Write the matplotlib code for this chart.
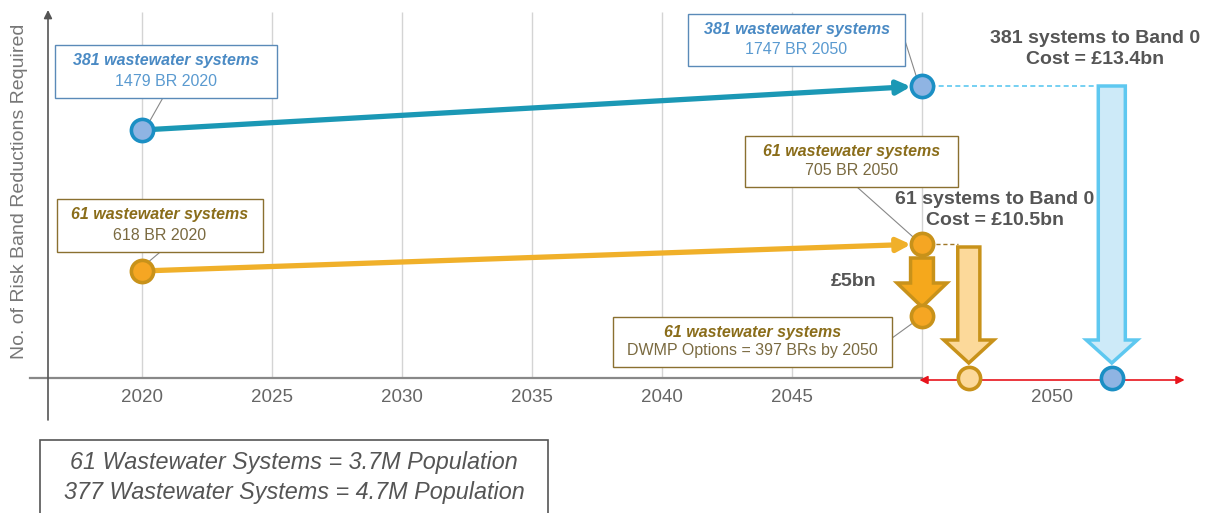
import numpy as np
import matplotlib
matplotlib.use("Agg")
import matplotlib.pyplot as plt
from matplotlib.patches import Rectangle

plt.rcParams['font.family'] = ['Liberation Sans', 'DejaVu Sans']

# schematic levels (not to scale with the BR counts)
years = [2020, 2050]
blue_br = [1479, 1747]
blue_level = [248, 292]
orange_br = [618, 705]
orange_level = [107, 134]
dwmp_br = 397
dwmp_level = 62
band0_x = [2051.8, 2057.3]          # orange, blue "to Band 0" end points
grid_years = [2020, 2025, 2030, 2035, 2040, 2045, 2050]
tick_pos = [2020, 2025, 2030, 2035, 2040, 2045, 2055]
tick_labels = ['2020', '2025', '2030', '2035', '2040', '2045', '2050']

BLUE_LINE = '#1b98b5'
BLUE_FACE = '#8fb4e3'
BLUE_EDGE = '#1b8fc4'
BLUE_TXT = '#4a8ac4'
ORG_LINE = '#f0b02a'
ORG_FACE = '#f5a623'
ORG_EDGE = '#c8921a'
ORG_TXT = '#8a6d1a'
GREY = '#555555'

fig = plt.figure(figsize=(12.1, 5.13), dpi=100)
ax = fig.add_axes([48 / 1210, 1 - 378 / 513, 1147 / 1210, 366 / 513])
ax.set_xlim(2016.385, 2060.5)
ax.set_ylim(0, 366)
for s in ax.spines.values():
    s.set_visible(False)

# grid + ticks
ax.vlines(grid_years, 0, 366, color='#d4d4d4', lw=1, zorder=0)
ax.set_xticks(tick_pos)
ax.set_xticklabels(tick_labels, fontsize=13.5, color='#666666')
ax.tick_params(axis='x', length=0, pad=8)
ax.set_yticks([])

ax.set_ylabel('No. of Risk Band Reductions Required', fontsize=14, color='#777777')
ax.yaxis.set_label_coords(-0.0175, 0.51)

# axis lines
ax.annotate('', xy=(2016.385, 368), xytext=(2016.385, -42),
            arrowprops=dict(arrowstyle='-|>', color='#555555', lw=1.2, mutation_scale=12,
                            shrinkA=0, shrinkB=0), annotation_clip=False)
ax.plot([2015.7, 2050], [0, 0], color='#888888', lw=1.6, clip_on=False, zorder=2)
ax.annotate('', xy=(2060.1, -2), xytext=(2049.9, -2),
            arrowprops=dict(arrowstyle='<|-|>', color='#e8141c', lw=1.2, mutation_scale=12,
                            shrinkA=0, shrinkB=0), annotation_clip=False, zorder=3)

# main trend arrows
ax.annotate('', xy=(years[1], blue_level[1]), xytext=(years[0], blue_level[0]),
            arrowprops=dict(arrowstyle='-|>', color=BLUE_LINE, lw=3.8, mutation_scale=20,
                            shrinkA=0, shrinkB=8), zorder=4)
ax.annotate('', xy=(years[1], orange_level[1]), xytext=(years[0], orange_level[0]),
            arrowprops=dict(arrowstyle='-|>', color=ORG_LINE, lw=3.8, mutation_scale=20,
                            shrinkA=0, shrinkB=8), zorder=4)

# dashed connectors
ax.plot([years[1], band0_x[1] - 0.3], [blue_level[1]] * 2, color='#5ec8f0', lw=1.2,
        ls=(0, (3, 2)), zorder=3)
ax.plot([years[1], band0_x[0] - 0.4], [orange_level[1]] * 2, color='#a07828', lw=1,
        ls=(0, (3, 2)), zorder=3)

# block arrows
ax.arrow(band0_x[1], blue_level[1], 0, 15 - blue_level[1], width=1.04, head_width=1.96,
         head_length=23, length_includes_head=True, fc='#cdeaf8', ec='#5ec8f0', lw=2.5, zorder=5)
ax.arrow(band0_x[0], orange_level[1] - 3, 0, 15 - orange_level[1] + 3, width=0.85,
         head_width=1.92, head_length=23, length_includes_head=True, fc='#fcd99a',
         ec=ORG_EDGE, lw=2.5, zorder=5)
ax.arrow(years[1], orange_level[1] - 14, 0, dwmp_level + 9 - orange_level[1] + 14, width=0.88,
         head_width=1.92, head_length=24, length_includes_head=True, fc='#f5a81c',
         ec=ORG_EDGE, lw=2.5, zorder=5)

# points
ax.plot(years, blue_level, 'o', ms=16, mfc=BLUE_FACE, mec=BLUE_EDGE, mew=2.6, zorder=6)
ax.plot(years, orange_level, 'o', ms=16, mfc=ORG_FACE, mec=ORG_EDGE, mew=2.6, zorder=6)
ax.plot(years[1], dwmp_level, 'o', ms=16, mfc=ORG_FACE, mec=ORG_EDGE, mew=2.6, zorder=6)
ax.plot(band0_x[0], 0, 'o', ms=16, mfc='#fcd99a', mec=ORG_EDGE, mew=2.6, zorder=6, clip_on=False)
ax.plot(band0_x[1], 0, 'o', ms=16, mfc=BLUE_FACE, mec=BLUE_EDGE, mew=2.6, zorder=6, clip_on=False)


def callout(x0, x1, y0, y1, title, sub, ec, tc, sc, lead_from, lead_to):
    ax.add_patch(Rectangle((x0, y0), x1 - x0, y1 - y0, fc='white', ec=ec, lw=1, zorder=7,
                           clip_on=False))
    xc = (x0 + x1) / 2
    h = y1 - y0
    ax.text(xc, y0 + h * 0.70, title, ha='center', va='center', fontsize=11.5,
            fontweight='bold', fontstyle='italic', color=tc, zorder=8)
    ax.text(xc, y0 + h * 0.32, sub, ha='center', va='center', fontsize=11.5, color=sc, zorder=8)
    ax.plot([lead_from[0], lead_to[0]], [lead_from[1], lead_to[1]], color='#888888', lw=0.8,
            zorder=5)


callout(2016.65, 2025.19, 280, 333, '381 wastewater systems', f'{blue_br[0]} BR {years[0]}',
        '#5a8ab8', BLUE_TXT, '#5a9ad0', (2020.8, 280), (2020.3, 257))
callout(2041.0, 2049.35, 312, 364, '381 wastewater systems', f'{blue_br[1]} BR {years[1]}',
        '#5a8ab8', BLUE_TXT, '#5a9ad0', (2049.35, 337), (2049.8, 300))
callout(2016.73, 2024.65, 126, 179, '61 wastewater systems', f'{orange_br[0]} BR {years[0]}',
        '#8a7030', ORG_TXT, '#7a6a40', (2020.7, 126), (2020.2, 115))
callout(2043.19, 2051.38, 191, 242, '61 wastewater systems', f'{orange_br[1]} BR {years[1]}',
        '#8a7030', ORG_TXT, '#7a6a40', (2047.5, 191), (2049.7, 140))
callout(2038.12, 2048.85, 11, 61, '61 wastewater systems',
        f'DWMP Options = {dwmp_br} BRs by {years[1]}',
        '#8a7030', ORG_TXT, '#7a6a40', (2048.85, 40), (2049.7, 56))

# cost labels
ax.text(2056.65, 329, '381 systems to Band 0\nCost = £13.4bn', ha='center', va='center',
        fontsize=14, fontweight='bold', color=GREY, linespacing=1.3, zorder=8)
ax.text(2052.8, 168, '61 systems to Band 0\nCost = £10.5bn', ha='center', va='center',
        fontsize=14, fontweight='bold', color=GREY, linespacing=1.3, zorder=8)
ax.text(2047.35, 96, '£5bn', ha='center', va='center', fontsize=14, fontweight='bold',
        color=GREY, zorder=8)

# population note
ax.add_patch(Rectangle((2016.08, -145), 2035.62 - 2016.08, 83, fc='white', ec='#555555',
                       lw=1.2, clip_on=False))
ax.text(2025.85, -84, '61 Wastewater Systems = 3.7M Population', ha='center', va='center',
        fontsize=16.8, fontstyle='italic', color=GREY, clip_on=False)
ax.text(2025.85, -114, '377 Wastewater Systems = 4.7M Population', ha='center', va='center',
        fontsize=16.8, fontstyle='italic', color=GREY, clip_on=False)

fig.savefig('out.png', dpi=100)
